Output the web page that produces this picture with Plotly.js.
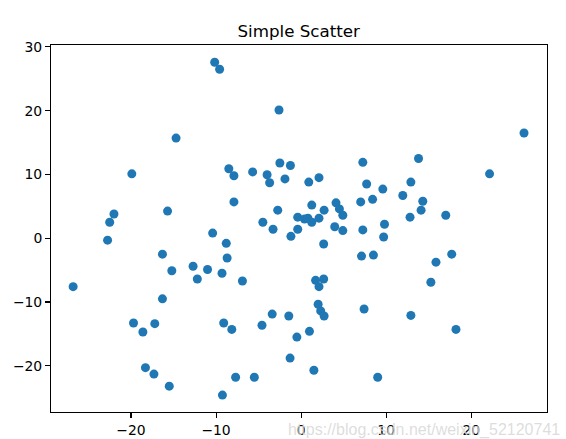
<!DOCTYPE html>
<html>
<head>
<meta charset="utf-8">
<script src="https://cdn.plot.ly/plotly-3.0.1.min.js"></script>
<style>html,body{margin:0;padding:0;background:#fff;}#chart{width:566px;height:439px;}</style>
</head>
<body>
<div id="chart"></div>
<script>
const chartTitle = "Simple Scatter";
const xValues = [-26.8,-10.16,-9.58,-14.7,-8.5,-7.9,-5.7,-2.6,-2.5,-1.26,7.25,26.2,13.8,-19.9,-22.0,-22.5,-22.75,-15.7,-10.4,-8.8,
  -8.7,-16.3,-15.2,-12.7,-11.0,-12.2,-9.3,-16.3,-7.9,-4.0,-3.7,-1.9,0.9,2.1,7.7,9.6,11.95,12.9,-2.75,-4.5,
  -3.3,-1.2,-0.4,-0.4,0.4,0.8,1.25,1.25,2.1,2.7,2.65,4.1,4.5,4.9,3.95,4.9,7.0,8.4,7.25,9.8,
  9.7,7.1,8.5,-6.9,1.7,2.65,2.1,22.15,14.3,14.1,12.8,17.0,17.7,15.85,15.25,-19.7,-18.6,-17.2,-9.1,-8.15,
  -18.3,-17.3,-15.5,-9.25,-7.7,-5.5,-4.6,-3.4,-1.45,-0.5,-1.3,0.98,1.5,2.0,2.3,2.7,7.4,9.0,12.9,18.2];
const yValues = [-7.6,27.6,26.5,15.7,10.9,9.8,10.4,20.1,11.8,11.4,11.9,16.5,12.5,10.1,3.8,2.5,-0.3,4.25,0.8,-0.8,
  -3.1,-2.5,-5.1,-4.4,-4.9,-6.4,-5.5,-9.5,5.7,9.95,8.7,9.3,8.8,9.5,8.5,7.7,6.7,8.8,4.4,2.5,
  1.4,0.3,1.4,3.3,3.0,3.15,2.5,5.2,3.15,4.4,-0.9,5.55,4.6,3.6,1.8,1.2,5.7,6.1,1.3,2.2,
  0.2,-2.8,-2.65,-6.7,-6.6,-6.4,-7.6,10.1,5.8,4.4,3.3,3.6,-2.5,-3.75,-6.9,-13.3,-14.7,-13.4,-13.3,-14.3,
  -20.3,-21.3,-23.2,-24.6,-21.8,-21.8,-13.65,-11.9,-12.2,-15.5,-18.8,-14.6,-20.7,-10.35,-11.4,-12.2,-11.1,-21.8,-12.1,-14.3];
const xTicks = [-20,-10,0,10,20];
const yTicks = [-20,-10,0,10,20,30];
const watermark = "https://blog.csdn.net/weixin_52120741";

const font = {family: "DejaVu Sans", size: 13.9, color: "#000"};
const axisCommon = {
  showgrid: false, zeroline: false, showline: true, mirror: true,
  linecolor: "#000", linewidth: 1.1, ticks: "outside", ticklen: 4.9, tickwidth: 1.1,
  tickcolor: "#000", tickfont: font, tickmode: "array", fixedrange: true
};
const layout = {
  width: 566, height: 439,
  margin: {l: 51, r: 19.3, t: 45.3, b: 27},
  paper_bgcolor: "#fff", plot_bgcolor: "#fff",
  showlegend: false,
  font: font,
  title: {text: chartTitle, font: {family: "DejaVu Sans", size: 16.7, color: "#000"},
          x: 0.5278, xanchor: "center", yref: "container", y: 1 - 31/439, yanchor: "middle"},
  xaxis: Object.assign({}, axisCommon, {range: [-29.4, 28.9], tickvals: xTicks, ticktext: xTicks.map(v => v < 0 ? "\u2212" + (-v) : String(v))}),
  yaxis: Object.assign({}, axisCommon, {range: [-27.25, 30.3], tickvals: yTicks, ticktext: yTicks.map(v => v < 0 ? "\u2212" + (-v) : String(v))}),
  annotations: [{
    text: watermark, xref: "paper", yref: "paper", x: 1.03, y: -0.02, xanchor: "right", yanchor: "top",
    showarrow: false, font: {family: "Liberation Sans", size: 16, color: "rgba(215,215,215,0.85)"}
  }]
};
const trace = {
  type: "scatter", mode: "markers", x: xValues, y: yValues,
  marker: {color: "#1f77b4", size: 9, line: {width: 0}},
  cliponaxis: false, hoverinfo: "skip"
};
Plotly.newPlot("chart", [trace], layout, {staticPlot: true, displayModeBar: false});
</script>
</body>
</html>
